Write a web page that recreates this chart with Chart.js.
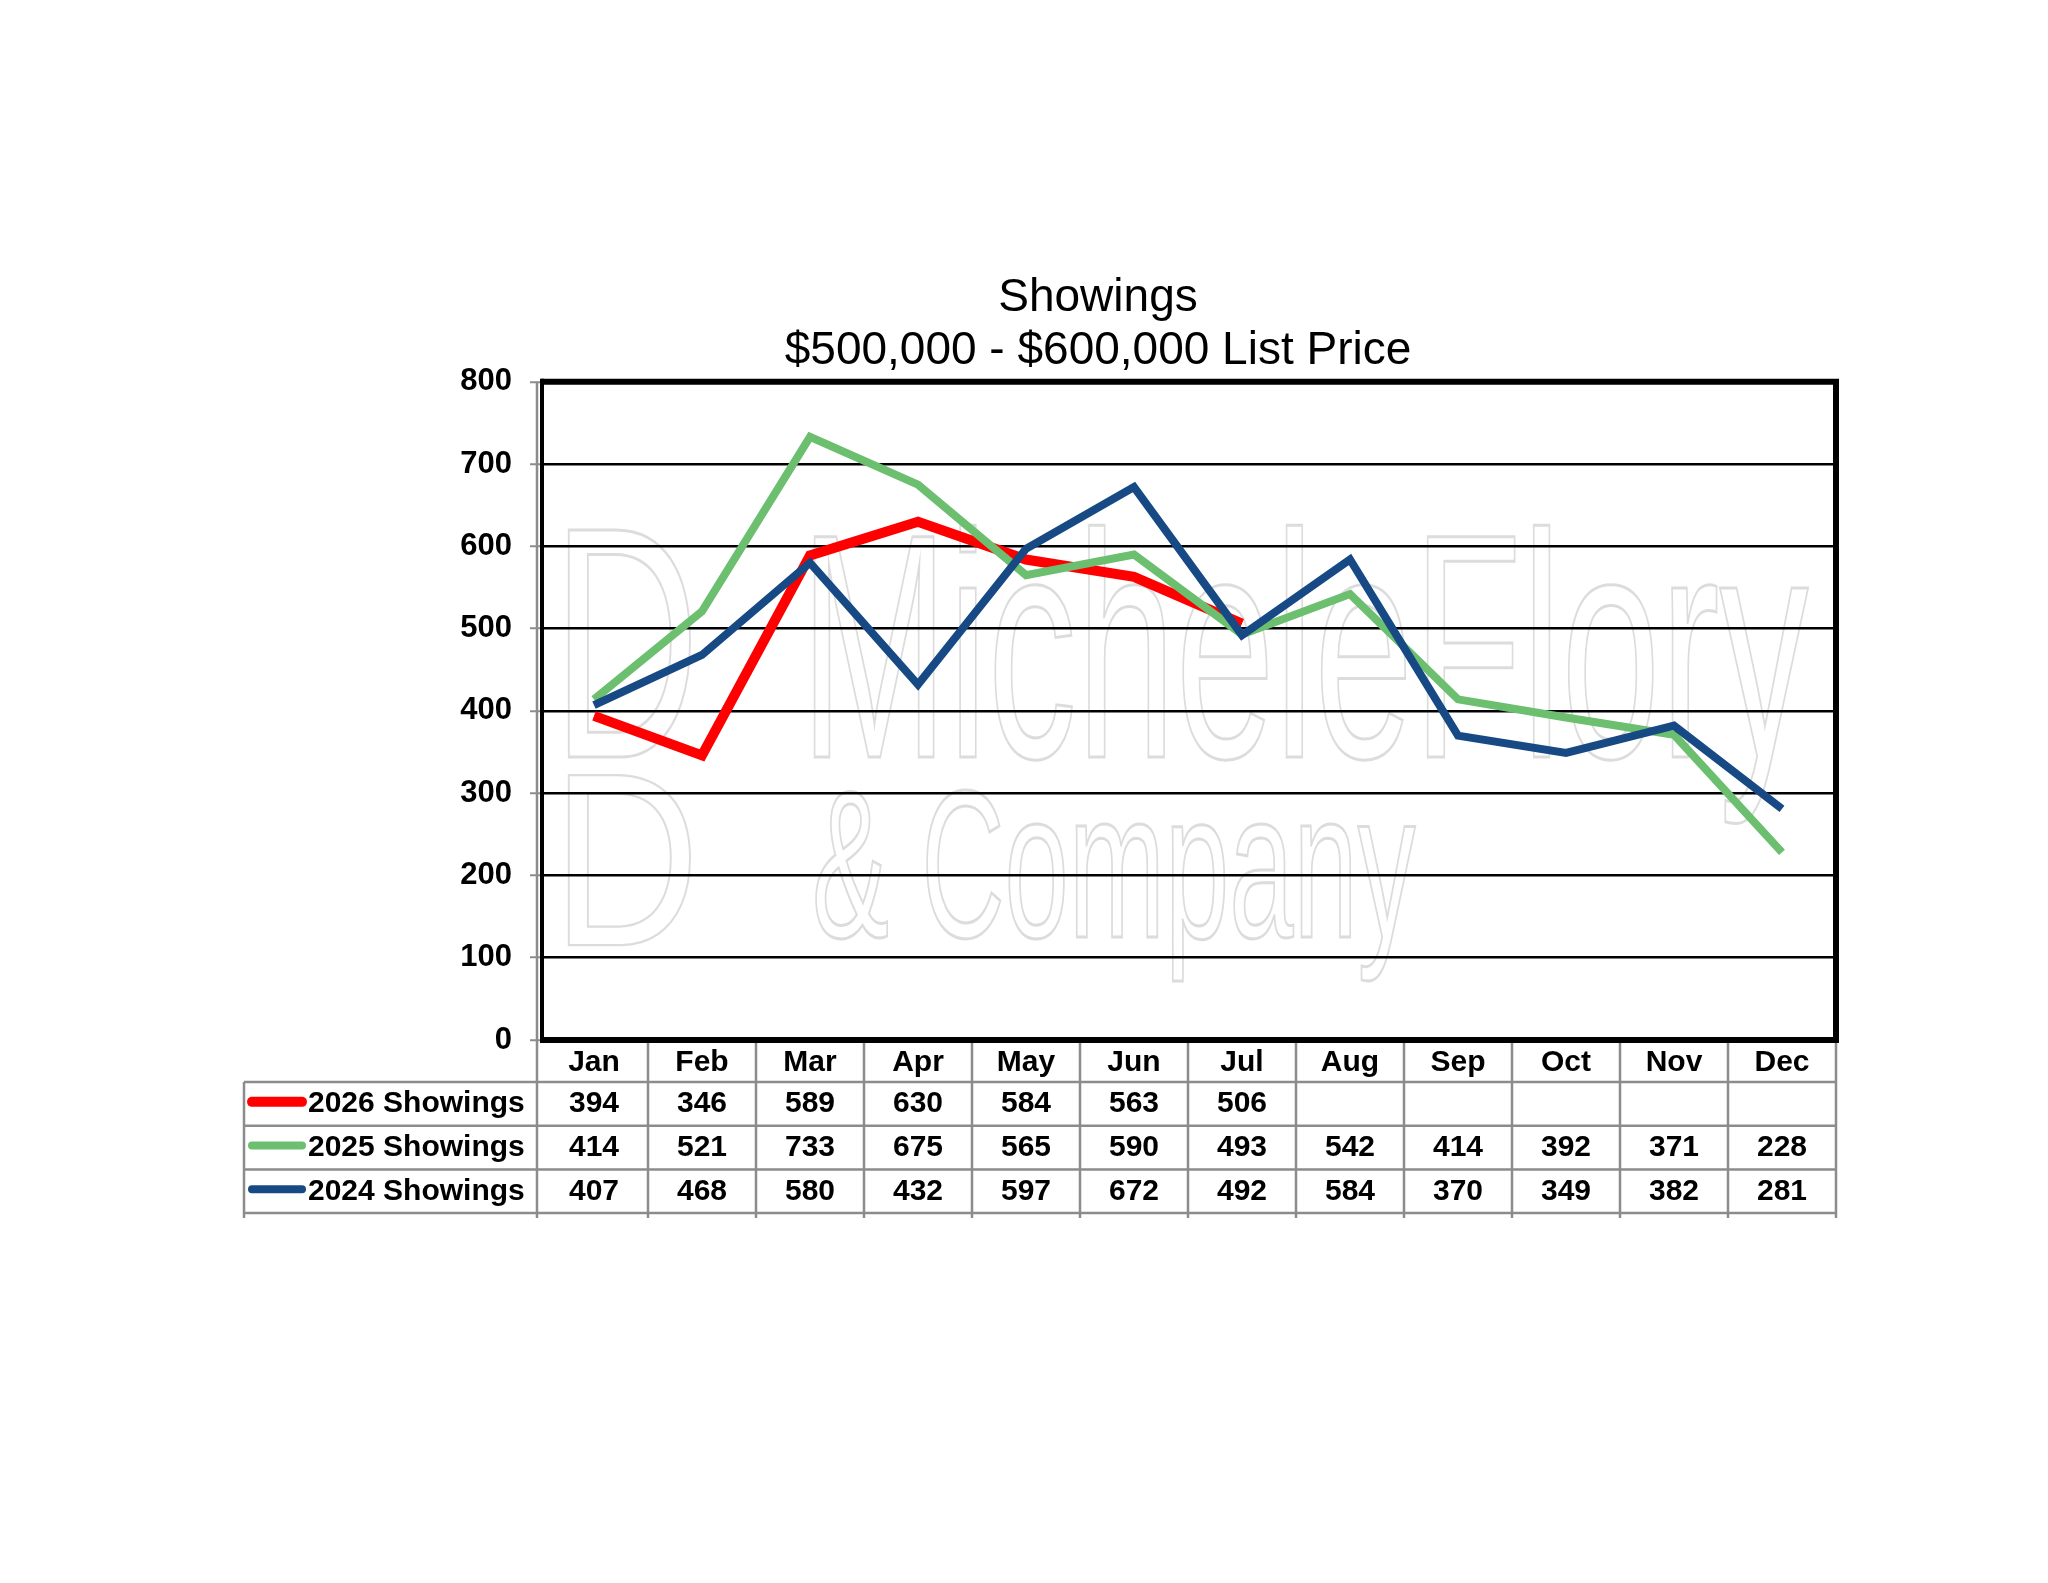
<!DOCTYPE html>
<html>
<head>
<meta charset="utf-8">
<script src="https://cdn.jsdelivr.net/npm/chart.js@4.4.1/dist/chart.umd.min.js"></script>
<style>
    html, body { margin: 0; padding: 0; background: #fff; }
    #wrap { width: 2048px; height: 1583px; }
</style>
</head>
<body>
<div id="wrap"><canvas id="showings_chart" width="2048" height="1583"></canvas></div>
<script>
const months = ['Jan', 'Feb', 'Mar', 'Apr', 'May', 'Jun', 'Jul', 'Aug', 'Sep', 'Oct', 'Nov', 'Dec'];
const showings2026 = [394, 346, 589, 630, 584, 563, 506, null, null, null, null, null];
const showings2025 = [414, 521, 733, 675, 565, 590, 493, 542, 414, 392, 371, 228];
const showings2024 = [407, 468, 580, 432, 597, 672, 492, 584, 370, 349, 382, 281];
const seriesNames = ['2026 Showings', '2025 Showings', '2024 Showings'];
const titleLines = ['Showings', '$500,000 - $600,000 List Price'];
const yMin = 0;
const yMax = 800;
const yStep = 100;

const FONT = "'Liberation Sans', Arial, sans-serif";
const GRAY = '#8c8c8c';
const TABLE_LEFT = 244;
const ROW_H = 43.7;

// watermark behind the grid
const watermark = {
    id: 'watermark',
    beforeDraw(chart) {
        const ctx = chart.ctx;
        ctx.save();
        ctx.fillStyle = '#fff';
        ctx.fillRect(0, 0, chart.width, chart.height);
        ctx.strokeStyle = '#dcdcdc';
        ctx.lineWidth = 3;
        ctx.textBaseline = 'alphabetic';
        ctx.font = '320px ' + FONT;
        ctx.save();
        ctx.translate(800, 757);
        ctx.scale(0.556, 1);
        ctx.strokeText('MicheleFlory', 0, 0);
        ctx.restore();
        ctx.font = '210px ' + FONT;
        ctx.save();
        ctx.translate(812, 937);
        ctx.scale(0.55, 1);
        ctx.strokeText('& Company', 0, 0);
        ctx.restore();
        ctx.font = '330px ' + FONT;
        ctx.save();
        ctx.translate(552, 757);
        ctx.scale(0.62, 1);
        ctx.strokeText('D', 0, 0);
        ctx.restore();
        ctx.save();
        ctx.translate(552, 945);
        ctx.scale(0.62, 0.75);
        ctx.strokeText('D', 0, 0);
        ctx.restore();
        ctx.restore();
    }
};

// black frame, gray axis line and the data table under the plot
const frameAndTable = {
    id: 'frameAndTable',
    afterDatasetsDraw(chart) {
        const ctx = chart.ctx;
        const area = chart.chartArea;
        const x = chart.scales.x;
        const colW = (x.right - x.left) / months.length;
        const head = x.bottom;
        const tableBottom = head + ROW_H * 3;

        ctx.save();
        ctx.strokeStyle = '#000';
        ctx.lineWidth = 6;
        ctx.beginPath();
        ctx.moveTo(area.left + 1, area.top);
        ctx.lineTo(area.right, area.top);
        ctx.lineTo(area.right, area.bottom);
        ctx.lineTo(area.left + 1, area.bottom);
        ctx.stroke();
        ctx.lineWidth = 4;
        ctx.beginPath();
        ctx.moveTo(area.left + 2, area.top - 3);
        ctx.lineTo(area.left + 2, area.bottom + 3);
        ctx.stroke();

        // table grid
        ctx.strokeStyle = GRAY;
        ctx.lineWidth = 2.5;
        ctx.beginPath();
        ctx.moveTo(area.left - 3, area.top);
        ctx.lineTo(area.left - 3, tableBottom + 5);
        for (let i = 1; i <= months.length; i++) {
            ctx.moveTo(x.left + i * colW, area.bottom + 3);
            ctx.lineTo(x.left + i * colW, tableBottom + 5);
        }
        ctx.moveTo(TABLE_LEFT, head);
        ctx.lineTo(TABLE_LEFT, tableBottom + 5);
        for (let r = 0; r <= 3; r++) {
            ctx.moveTo(TABLE_LEFT, head + r * ROW_H);
            ctx.lineTo(x.right, head + r * ROW_H);
        }
        ctx.stroke();

        // rows: legend key, name, values
        const rows = [chart.data.datasets[0], chart.data.datasets[1], chart.data.datasets[2]];
        ctx.font = 'bold 30px ' + FONT;
        ctx.fillStyle = '#000';
        ctx.textBaseline = 'middle';
        rows.forEach((ds, r) => {
            const cy = head + r * ROW_H + ROW_H / 2;
            ctx.strokeStyle = ds.borderColor;
            ctx.lineWidth = ds.borderWidth;
            ctx.lineCap = 'round';
            ctx.beginPath();
            ctx.moveTo(TABLE_LEFT + 8, cy - 2);
            ctx.lineTo(TABLE_LEFT + 58, cy - 2);
            ctx.stroke();
            ctx.textAlign = 'left';
            ctx.fillText(ds.label, TABLE_LEFT + 64, cy);
            ctx.textAlign = 'center';
            ds.data.forEach((v, i) => {
                if (v !== null) {
                    ctx.fillText(String(v), x.getPixelForTick(i), cy);
                }
            });
        });
        ctx.restore();
    }
};

new Chart(document.getElementById('showings_chart').getContext('2d'), {
    type: 'line',
    data: {
        labels: months,
        datasets: [{
            label: seriesNames[0],
            data: showings2026,
            borderColor: '#ff0000',
            backgroundColor: '#ff0000',
            borderWidth: 10,
            order: 3
        }, {
            label: seriesNames[1],
            data: showings2025,
            borderColor: '#6bbf6f',
            backgroundColor: '#6bbf6f',
            borderWidth: 8,
            order: 2
        }, {
            label: seriesNames[2],
            data: showings2024,
            borderColor: '#174a84',
            backgroundColor: '#174a84',
            borderWidth: 8,
            order: 1
        }]
    },
    options: {
        responsive: false,
        animation: false,
        devicePixelRatio: 1,
        elements: {
            point: { radius: 0 },
            line: { tension: 0, borderJoinStyle: 'miter', borderCapStyle: 'butt' }
        },
        layout: {
            padding: { left: 360, right: 212, top: 266, bottom: 501 }
        },
        plugins: {
            legend: { display: false },
            tooltip: { enabled: false },
            title: {
                display: true,
                text: titleLines,
                color: '#000',
                font: { family: FONT, size: 46, weight: 'normal', lineHeight: 1.15 },
                padding: { top: 6, bottom: 4 }
            }
        },
        scales: {
            x: {
                type: 'category',
                offset: true,
                grid: { display: false, drawTicks: false },
                border: { display: false },
                ticks: {
                    color: '#000',
                    font: { family: FONT, size: 30, weight: 'bold' },
                    padding: 5,
                    maxRotation: 0,
                    autoSkip: false
                },
                afterFit(scale) { scale.height = 42; }
            },
            y: {
                min: yMin,
                max: yMax,
                grid: {
                    color: '#000',
                    lineWidth: 2.5,
                    drawTicks: true,
                    tickLength: 10,
                    tickColor: GRAY,
                    tickWidth: 2
                },
                border: { display: false },
                ticks: {
                    stepSize: yStep,
                    color: '#000',
                    font: { family: FONT, size: 31, weight: 'bold' },
                    padding: 18
                },
                afterFit(scale) { scale.width = 180; }
            }
        }
    },
    plugins: [watermark, frameAndTable]
});
</script>
</body>
</html>
